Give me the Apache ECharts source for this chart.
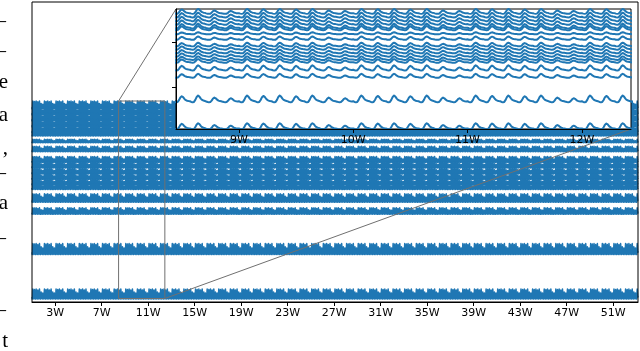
<!DOCTYPE html>
<html>
<head>
<meta charset="utf-8">
<script src="https://cdn.jsdelivr.net/npm/echarts@6/dist/echarts.min.js"></script>
<style>
  html, body { margin: 0; padding: 0; background: #fff; }
  #chart { width: 640px; height: 351px; }
</style>
</head>
<body>
<div id="chart"></div>
<script>
// tick labels (weeks)
const weekTicks = [3, 7, 11, 15, 19, 23, 27, 31, 35, 39, 43, 47, 51]
const insetTicks = [9, 10, 11, 12]
const insetYTicks = [146.7, 72.6]
// level of each load curve (centre) and its daily swing
const lineLevels = [197, 191, 185, 179, 173, 169.5, 161, 153, 142.5, 137, 131, 125.5, 120, 115.5, 104, 91, 53, 8]
const lineSwing = [8, 8, 8, 8, 8, 7, 3.5, 5.5, 6, 6, 6, 6, 6, 6, 8.5, 6.5, 11, 10]
// shape of one day (2h steps) and size of the bump per weekday
const dayShape = [0.15, 0.05, 0, 0.05, 0.35, 0.8, 1, 0.85, 0.55, 0.35, 0.25, 0.2]
const weekShape = [1, 0.95, 1, 0.9, 1, 0.7, 0.6]
const nDays = 365
// zoomed window
const zoomX = [8.45, 12.43]
const zoomY = [3.5, 201]
// cut-off text of the page next to the figure
const docChars = ['—', '—', 'e', 'a', ',', '—', 'a', '—', '—', 't']
const docCharX = [6, 6, 8, 8, 8, 6, 8, 6, 6, 8]
const docCharY = [21, 51, 82, 115, 148, 173, 203, 238, 310, 341]

const blue = '#1f77b4'
const chart = echarts.init(document.getElementById('chart'))

// build every curve from its level + daily profile
const curves = lineLevels.map((lvl, i) => {
  const pts = []
  for (let d = 0; d < nDays; d++) {
    for (let h = 0; h < dayShape.length; h++) {
      const x = 1 + (d + h / dayShape.length) / 7
      const y = lvl - lineSwing[i] / 2 + lineSwing[i] * dayShape[h] * weekShape[d % 7]
      pts.push([x, y])
    }
  }
  return pts
})

const labelFont = { color: '#000', fontSize: 11, fontFamily: 'DejaVu Sans' }

// polylines in cartesian coords (keeps every point, no segment skipping)
const series = [
  {
    type: 'lines', coordinateSystem: 'cartesian2d', xAxisIndex: 0, yAxisIndex: 0,
    polyline: true, silent: true, z: 2, clip: true,
    data: curves.map(pts => ({ coords: pts })),
    lineStyle: { color: blue, width: 1.5, opacity: 1, join: 'round', cap: 'round' }
  },
  {
    type: 'lines', coordinateSystem: 'cartesian2d', xAxisIndex: 1, yAxisIndex: 1,
    polyline: true, silent: true, z: 6, clip: true,
    data: curves.map(pts => ({ coords: pts.filter(p => p[0] > zoomX[0] - 0.1 && p[0] < zoomX[1] + 0.1) })),
    lineStyle: { color: blue, width: 2, opacity: 1, join: 'round', cap: 'round' }
  }
]

const option = {
  animation: false,
  backgroundColor: '#fff',
  grid: [
    { left: 32, right: 2, top: 2, bottom: 49, show: true, borderColor: '#000', borderWidth: 1, backgroundColor: 'transparent', z: 3 },
    { left: 176, right: 9, top: 9, bottom: 222, show: true, borderColor: '#000', borderWidth: 1, backgroundColor: '#fff', z: 5 }
  ],
  xAxis: [
    {
      type: 'value', gridIndex: 0, min: 1, max: 53.14,
      axisLine: { show: true, lineStyle: { color: '#000' } },
      axisTick: { show: true, customValues: weekTicks, length: 4, lineStyle: { color: '#000' } },
      axisLabel: { customValues: weekTicks, formatter: v => v + 'W', margin: 6, ...labelFont },
      splitLine: { show: false }
    },
    {
      type: 'value', gridIndex: 1, min: zoomX[0], max: zoomX[1], z: 7,
      axisLine: { show: true, lineStyle: { color: '#000' } },
      axisTick: { show: true, customValues: insetTicks, length: 4, lineStyle: { color: '#000' } },
      axisLabel: { customValues: insetTicks, formatter: v => v + 'W', margin: 6, ...labelFont },
      splitLine: { show: false }
    }
  ],
  yAxis: [
    {
      type: 'value', gridIndex: 0, min: 0, max: 300,
      axisLine: { show: false }, axisTick: { show: false }, axisLabel: { show: false }, splitLine: { show: false }
    },
    {
      type: 'value', gridIndex: 1, min: zoomY[0], max: zoomY[1], z: 7,
      axisLine: { show: true, lineStyle: { color: '#000' } },
      axisTick: { show: true, customValues: insetYTicks, length: 4, lineStyle: { color: '#000' } },
      axisLabel: { show: false }, splitLine: { show: false }
    }
  ],
  series
}
chart.setOption(option)

// zoom box + connector lines, placed through the axes
const b0 = chart.convertToPixel({ gridIndex: 0 }, [zoomX[0], zoomY[1]])
const b1 = chart.convertToPixel({ gridIndex: 0 }, [zoomX[1], zoomY[0]])
const i0 = chart.convertToPixel({ gridIndex: 1 }, [zoomX[0], zoomY[1]])
const i1 = chart.convertToPixel({ gridIndex: 1 }, [zoomX[1], zoomY[0]])
const edge = { stroke: '#707070', lineWidth: 1 }

const graphic = [
  { type: 'rect', z: 4, silent: true, shape: { x: b0[0], y: b0[1], width: b1[0] - b0[0], height: b1[1] - b0[1] }, style: { fill: null, ...edge } },
  { type: 'line', z: 4, silent: true, shape: { x1: b0[0], y1: b0[1], x2: i0[0], y2: i0[1] }, style: edge },
  { type: 'line', z: 4, silent: true, shape: { x1: b1[0], y1: b1[1], x2: i1[0], y2: i1[1] }, style: edge }
]
docChars.forEach((c, k) => {
  graphic.push({
    type: 'text', z: 1, silent: true, x: docCharX[k], y: docCharY[k],
    style: { text: c, fill: '#000', font: '21px "Liberation Serif"', align: 'right', verticalAlign: 'middle' }
  })
})
chart.setOption({ graphic })
</script>
</body>
</html>
